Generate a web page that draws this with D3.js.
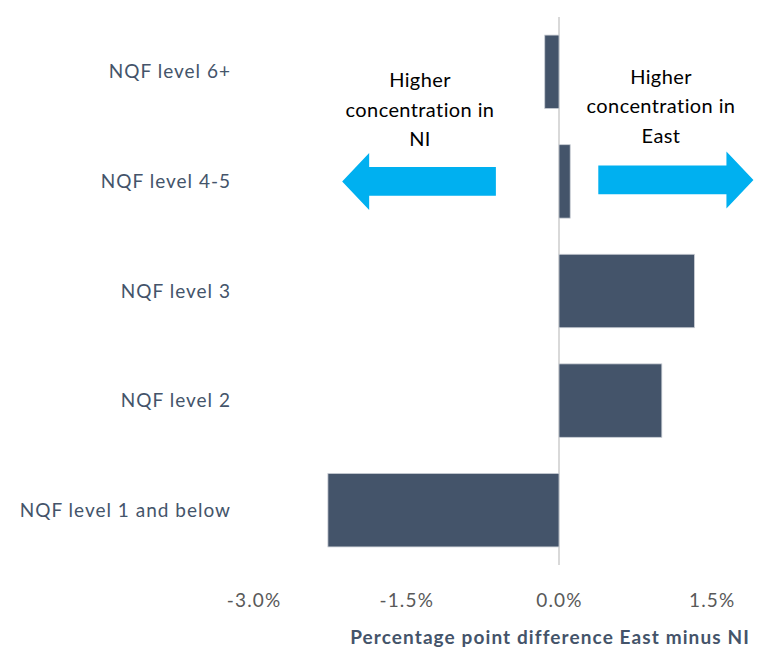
<!DOCTYPE html>
<html>
<head>
<meta charset="utf-8">
<script src="https://cdn.jsdelivr.net/npm/d3@7/dist/d3.min.js"></script>
<style>
  html, body { margin: 0; padding: 0; background: #fff; }
  svg { display: block; }
  text { font-family: "Lato", "Liberation Sans", sans-serif; font-variant-ligatures: none; }
</style>
</head>
<body>
<svg id="chart" width="765" height="649"></svg>
<script>
const categories = ["NQF level 6+", "NQF level 4-5", "NQF level 3", "NQF level 2", "NQF level 1 and below"];
const values = [-0.14, 0.11, 1.33, 1.01, -2.27];
const tickValues = [-3.0, -1.5, 0.0, 1.5];
const tickLabels = ["-3.0%", "-1.5%", "0.0%", "1.5%"];
const axisTitle = "Percentage point difference East minus NI";
const leftNote = ["Higher", "concentration in", "NI"];
const rightNote = ["Higher", "concentration in", "East"];

const svg = d3.select("#chart");
const x = d3.scaleLinear().domain([-3, 1.5]).range([253.6, 711.7]);
const y = d3.scaleBand().domain(categories).range([17, 565]).paddingInner(0.33).paddingOuter(0.165);

const barColor = "#44546A";
const arrowColor = "#00B0F0";
const textColor = "#44546A";
const tickColor = "#595959";

// zero line
svg.append("line")
  .attr("x1", x(0)).attr("x2", x(0))
  .attr("y1", 17).attr("y2", 565)
  .attr("stroke", "#D9D9D9").attr("stroke-width", 2);

// bars
svg.append("g").selectAll("rect").data(categories).join("rect")
  .attr("x", (d, i) => x(Math.min(0, values[i])))
  .attr("width", (d, i) => Math.abs(x(values[i]) - x(0)))
  .attr("y", d => y(d))
  .attr("height", y.bandwidth())
  .attr("fill", barColor)
  .attr("stroke", "#C9CDD4").attr("stroke-width", 0.8);

// category labels
svg.append("g").selectAll("text").data(categories).join("text")
  .attr("x", 231)
  .attr("y", d => y(d) + y.bandwidth() / 2)
  .attr("dy", "0.35em")
  .attr("text-anchor", "end")
  .attr("fill", textColor)
  .attr("font-size", 19)
  .attr("letter-spacing", 1)
  .text(d => d);

// x axis tick labels
const xAxis = d3.axisBottom(x).tickValues(tickValues).tickFormat((d, i) => tickLabels[i]).tickSize(0);
const gx = svg.append("g").attr("transform", "translate(0,590)").call(xAxis);
gx.select(".domain").remove();
gx.selectAll("text").attr("font-size", 19).attr("fill", tickColor)
  .attr("letter-spacing", 1.2)
  .attr("font-family", "Lato, 'Liberation Sans', sans-serif");

// axis title
svg.append("text")
  .attr("x", 550).attr("y", 644)
  .attr("text-anchor", "middle")
  .attr("font-size", 19).attr("font-weight", "bold")
  .attr("letter-spacing", 1.1)
  .attr("fill", textColor)
  .text(axisTitle);

// notes
function note(lines, cx, baseY) {
  svg.append("g").selectAll("text").data(lines).join("text")
    .attr("x", cx).attr("y", (d, i) => baseY + i * 29.6)
    .attr("text-anchor", "middle")
    .attr("font-size", 20).attr("fill", "#000")
    .attr("letter-spacing", 0.4)
    .text(d => d);
}
note(leftNote, 420, 87);
note(rightNote, 661, 83.5);

// arrows (block arrows)
const ay = y(categories[1]) + y.bandwidth() / 2;
function arrow(shaftX, tipX, cy, dir) {
  const headLen = 27 * dir;
  const shaftH = 14.3, headH = 28.5;
  const baseX = tipX - headLen;
  const pts = [
    [shaftX, cy - shaftH], [baseX, cy - shaftH], [baseX, cy - headH],
    [tipX, cy], [baseX, cy + headH], [baseX, cy + shaftH], [shaftX, cy + shaftH]
  ];
  svg.append("polygon").attr("points", pts.map(p => p.join(",")).join(" ")).attr("fill", arrowColor);
}
arrow(x(-0.62), x(-2.13), ay, -1);
arrow(x(0.386), x(1.91), ay - 1.5, 1);
</script>
</body>
</html>
